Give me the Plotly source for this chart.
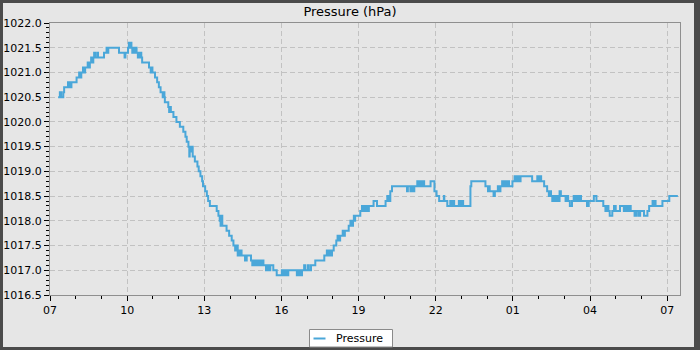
import datetime as dt
import plotly.graph_objects as go

# Pressure readings (hPa), recorded whenever the reported value changed
times = [
    "07:19", "07:23", "07:26", "07:31", "07:33", "07:42", "07:44", "07:46", "07:48", "07:50",
    "08:02", "08:08", "08:11", "08:13", "08:17", "08:20", "08:22", "08:28", "08:30", "08:33",
    "08:36", "08:38", "08:41", "08:43", "08:45", "08:50", "08:52", "09:06", "09:12", "09:14",
    "09:16", "09:41", "09:54", "09:56", "10:02", "10:04", "10:06", "10:07", "10:10", "10:12",
    "10:14", "10:16", "10:18", "10:22", "10:25", "10:27", "10:29", "10:31", "10:33", "10:35",
    "10:51", "10:55", "10:57", "10:59", "11:05", "11:10", "11:14", "11:18", "11:23", "11:25",
    "11:27", "11:28", "11:36", "11:38", "11:40", "11:42", "11:48", "11:55", "12:03", "12:11",
    "12:16", "12:19", "12:23", "12:25", "12:26", "12:28", "12:31", "12:33", "12:38", "12:44",
    "12:47", "12:51", "12:55", "12:57", "13:02", "13:06", "13:09", "13:13", "13:29", "13:33",
    "13:36", "13:38", "13:40", "13:42", "13:52", "13:58", "14:04", "14:08", "14:12", "14:15",
    "14:18", "14:20", "14:23", "14:25", "14:27", "14:35", "14:39", "14:49", "14:52", "14:54",
    "14:58", "15:01", "15:05", "15:08", "15:12", "15:15", "15:18", "15:24", "15:27", "15:30",
    "15:34", "15:41", "15:49", "16:01", "16:04", "16:08", "16:12", "16:16", "16:36", "16:40",
    "16:44", "16:48", "16:53", "16:55", "17:01", "17:04", "17:09", "17:19", "17:40", "17:46",
    "17:50", "17:53", "17:56", "17:58", "18:02", "18:08", "18:11", "18:14", "18:17", "18:23",
    "18:25", "18:28", "18:37", "18:41", "18:44", "18:47", "18:49", "18:51", "18:52", "19:04",
    "19:08", "19:12", "19:16", "19:20", "19:24", "19:35", "19:43", "20:03", "20:07", "20:10",
    "20:14", "20:18", "20:53", "20:55", "21:01", "21:04", "21:07", "21:10", "21:17", "21:20",
    "21:23", "21:26", "21:29", "21:33", "21:48", "21:57", "22:02", "22:08", "22:19", "22:20",
    "22:27", "22:34", "22:37", "22:40", "22:43", "22:54", "22:57", "23:00", "23:04", "23:21",
    "23:23", "23:56", "00:02", "00:04", "00:06", "00:15", "00:18", "00:25", "00:28", "00:31",
    "00:35", "00:39", "00:42", "00:46", "00:48", "00:51", "00:59", "01:04", "01:08", "01:11",
    "01:15", "01:18", "01:45", "01:57", "02:00", "02:03", "02:06", "02:13", "02:20", "02:24",
    "02:26", "02:29", "02:32", "02:36", "02:40", "02:43", "02:47", "02:49", "02:52", "03:03",
    "03:06", "03:09", "03:13", "03:18", "03:22", "03:26", "03:29", "03:33", "03:36", "03:39",
    "03:53", "03:57", "04:09", "04:15", "04:31", "04:36", "04:40", "04:43", "04:46", "04:52",
    "04:56", "05:00", "05:10", "05:19", "05:23", "05:27", "05:31", "05:35", "05:44", "05:48",
    "05:53", "05:57", "06:06", "06:14", "06:18", "06:26", "06:29", "06:31", "06:33", "06:49",
    "07:05", "07:25",
]
pressure = [
    1020.5, 1020.6, 1020.5, 1020.6, 1020.7, 1020.8, 1020.7, 1020.8, 1020.7, 1020.8,
    1020.9, 1021.0, 1020.9, 1021.0, 1021.1, 1021.0, 1021.1, 1021.2, 1021.1, 1021.2,
    1021.3, 1021.2, 1021.3, 1021.4, 1021.3, 1021.4, 1021.3, 1021.4, 1021.5, 1021.4,
    1021.5, 1021.4, 1021.3, 1021.4, 1021.5, 1021.6, 1021.5, 1021.6, 1021.5, 1021.4,
    1021.5, 1021.4, 1021.5, 1021.4, 1021.3, 1021.4, 1021.3, 1021.4, 1021.3, 1021.2,
    1021.1, 1021.0, 1021.1, 1021.0, 1020.9, 1020.8, 1020.7, 1020.6, 1020.5, 1020.6,
    1020.5, 1020.4, 1020.3, 1020.2, 1020.3, 1020.2, 1020.1, 1020.0, 1019.9, 1019.8,
    1019.7, 1019.6, 1019.5, 1019.3, 1019.5, 1019.4, 1019.5, 1019.3, 1019.2, 1019.1,
    1019.0, 1018.9, 1018.8, 1018.7, 1018.6, 1018.5, 1018.4, 1018.3, 1018.2, 1018.1,
    1018.0, 1017.9, 1018.1, 1017.9, 1017.8, 1017.7, 1017.6, 1017.5, 1017.4, 1017.5,
    1017.3, 1017.4, 1017.3, 1017.4, 1017.3, 1017.2, 1017.3, 1017.2, 1017.1, 1017.2,
    1017.1, 1017.2, 1017.1, 1017.2, 1017.1, 1017.2, 1017.1, 1017.0, 1017.1, 1017.0,
    1017.1, 1017.0, 1016.9, 1017.0, 1016.9, 1017.0, 1016.9, 1017.0, 1016.9, 1017.0,
    1016.9, 1017.0, 1017.1, 1017.0, 1017.1, 1017.0, 1017.1, 1017.2, 1017.3, 1017.4,
    1017.3, 1017.4, 1017.3, 1017.4, 1017.5, 1017.6, 1017.7, 1017.6, 1017.7, 1017.8,
    1017.7, 1017.8, 1017.9, 1018.0, 1017.9, 1018.0, 1018.1, 1018.0, 1018.1, 1018.2,
    1018.3, 1018.2, 1018.3, 1018.2, 1018.3, 1018.4, 1018.3, 1018.4, 1018.5, 1018.4,
    1018.6, 1018.7, 1018.6, 1018.7, 1018.6, 1018.7, 1018.6, 1018.7, 1018.8, 1018.7,
    1018.8, 1018.7, 1018.8, 1018.7, 1018.8, 1018.6, 1018.5, 1018.4, 1018.5, 1018.4,
    1018.3, 1018.4, 1018.3, 1018.4, 1018.3, 1018.4, 1018.3, 1018.4, 1018.3, 1018.7,
    1018.8, 1018.7, 1018.6, 1018.7, 1018.6, 1018.5, 1018.6, 1018.7, 1018.6, 1018.7,
    1018.8, 1018.7, 1018.8, 1018.7, 1018.8, 1018.7, 1018.8, 1018.9, 1018.8, 1018.9,
    1018.8, 1018.9, 1018.8, 1018.9, 1018.8, 1018.9, 1018.8, 1018.7, 1018.6, 1018.5,
    1018.6, 1018.5, 1018.4, 1018.5, 1018.4, 1018.5, 1018.4, 1018.6, 1018.5, 1018.4,
    1018.5, 1018.4, 1018.3, 1018.4, 1018.5, 1018.4, 1018.5, 1018.4, 1018.5, 1018.4,
    1018.3, 1018.4, 1018.5, 1018.4, 1018.3, 1018.2, 1018.3, 1018.2, 1018.1, 1018.2,
    1018.3, 1018.2, 1018.3, 1018.2, 1018.3, 1018.2, 1018.3, 1018.2, 1018.1, 1018.2,
    1018.1, 1018.2, 1018.1, 1018.2, 1018.3, 1018.4, 1018.3, 1018.4, 1018.3, 1018.4,
    1018.5, 1018.5,
]

# Turn clock times into timestamps, rolling over to the next day after midnight
start_day = dt.date(2024, 1, 1)
stamps = []
day = start_day
prev = None
for t in times:
    hh, mm = map(int, t.split(":"))
    cur = dt.time(hh, mm)
    if prev is not None and cur < prev:
        day = day + dt.timedelta(days=1)
    stamps.append(dt.datetime.combine(day, cur))
    prev = cur

x_start = dt.datetime.combine(start_day, dt.time(7, 0))
x_end = dt.datetime.combine(start_day + dt.timedelta(days=1), dt.time(7, 30))

W, H = 700, 350
ML, MR, MT, MB = 50, 20, 23, 55
PW, PH = W - ML - MR, H - MT - MB

LINE_BLUE = "#4aa7d9"
BG = "#e6e6e6"
FRAME = "#4b4b4b"
GRID = "#c2c2c2"
AXLINE = "#8f8f8f"
FONT = dict(family="DejaVu Sans, sans-serif", size=11, color="#000000")


def px_x(px):
    return (px - ML) / PW


def px_y(py):
    return (H - MB - py) / PH


fig = go.Figure()
fig.add_trace(go.Scatter(
    x=stamps, y=pressure, mode="lines", name="Pressure",
    line=dict(color=LINE_BLUE, width=2, shape="hv"),
    showlegend=False,
))

axis_common = dict(
    showline=True, mirror=True, linecolor=AXLINE, linewidth=1,
    ticks="outside", ticklen=5, tickwidth=1, tickcolor="#000000",
    showgrid=True, gridcolor=GRID, gridwidth=1, griddash="5px,3px",
    zeroline=False, tickfont=FONT, automargin=False,
)

fig.update_xaxes(
    type="date", range=[x_start, x_end],
    tick0=x_start, dtick=3 * 3600 * 1000, tickformat="%H",
    minor=dict(dtick=3600 * 1000, ticks="outside", ticklen=3,
               tickcolor="#000000", showgrid=False),
    **axis_common,
)
fig.update_yaxes(
    range=[1016.5, 1022.0], tick0=1016.5, dtick=0.5, tickformat=".1f",
    minor=dict(dtick=0.1, ticks="outside", ticklen=3,
               tickcolor="#000000", showgrid=False),
    **axis_common,
)

shapes = [
    # light panel inside the dark outer frame
    dict(type="rect", xref="paper", yref="paper", layer="below",
         x0=px_x(3), x1=px_x(694), y0=px_y(347), y1=px_y(3),
         fillcolor=BG, line=dict(width=0)),
    # legend box
    dict(type="rect", xref="paper", yref="paper", layer="above",
         x0=px_x(309.5), x1=px_x(392.5), y0=px_y(347), y1=px_y(329.5),
         fillcolor="#ffffff", line=dict(color="#8a8a8a", width=1)),
    # legend line sample
    dict(type="line", xref="paper", yref="paper", layer="above",
         x0=px_x(313.5), x1=px_x(325.5), y0=px_y(338.5), y1=px_y(338.5),
         line=dict(color=LINE_BLUE, width=2)),
]

annotations = [
    dict(text="Pressure", xref="paper", yref="paper",
         x=px_x(333.5), y=px_y(338.5), xanchor="left", yanchor="middle",
         showarrow=False, font=FONT),
]

fig.update_layout(
    width=W, height=H,
    margin=dict(l=ML, r=MR, t=MT, b=MB, pad=0, autoexpand=False),
    paper_bgcolor=FRAME, plot_bgcolor=BG,
    title=dict(text="Pressure (hPa)", x=0.5, xref="container", xanchor="center",
               y=1 - 11.5 / H, yref="container", yanchor="middle",
               font=dict(family="DejaVu Sans, sans-serif", size=13, color="#000000")),
    shapes=shapes, annotations=annotations,
    showlegend=False,
)

fig.write_html("out.html")
